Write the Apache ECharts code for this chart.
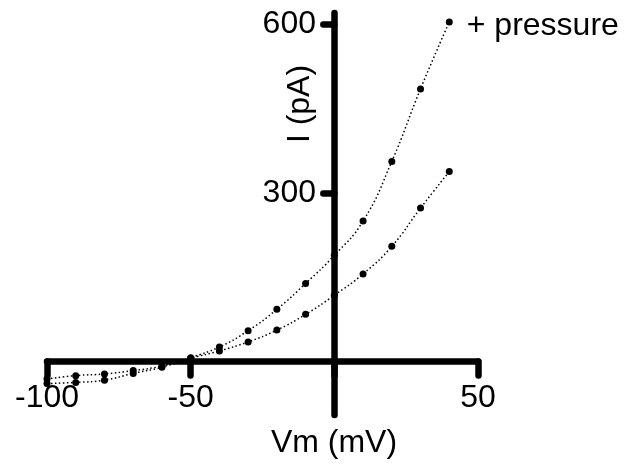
<!DOCTYPE html>
<html>
<head>
<meta charset="utf-8">
<script src="https://cdn.jsdelivr.net/npm/echarts@6/dist/echarts.min.js"></script>
<style>
  html, body { margin: 0; padding: 0; background: #fff; }
  #chart { width: 634px; height: 470px; }
</style>
</head>
<body>
<div id="chart"></div>
<script>
// membrane voltage steps (mV)
var voltages = [-100, -90, -80, -70, -60, -50, -40, -30, -20, -10, 0, 10, 20, 30, 40];
// current with pressure (pA)
var pressureCurrent = [-39, -37, -33, -21, -10, 7, 26, 55, 93, 139, 189, 250, 356, 485, 604];
// current without pressure (pA)
var controlCurrent = [-31, -25, -22, -16, -8, 6, 19, 35, 56, 84, 118, 156, 205, 273, 338];
var yTicks = [300, 600];
var pressureLabel = '+ pressure';

var font = 'Liberation Sans, Arial, Helvetica, sans-serif';
var fsize = 32;

function pairs(ys) {
    return voltages.map(function (v, i) { return [v, ys[i]]; });
}

var pressureData = pairs(pressureCurrent);
var last = pressureData.length - 1;
pressureData[last] = {
    value: pressureData[last],
    label: {
        show: true,
        position: 'right',
        distance: 14,
        offset: [0, 4],
        formatter: pressureLabel,
        color: '#000',
        fontSize: fsize,
        fontFamily: font
    }
};

var lineStyle = { color: '#000', width: 1.5, type: [1.5, 2.5] };
var axisStroke = { color: '#000', width: 6.5, cap: 'round' };

var chart = echarts.init(document.getElementById('chart'));
var option = {
    animation: false,
    grid: { left: 47, right: 156, top: 13, bottom: 55, outerBoundsMode: 'none', containLabel: false },
    xAxis: {
        type: 'value',
        min: -100,
        max: 50,
        interval: 50,
        axisLine: { onZero: true, lineStyle: axisStroke },
        axisTick: { show: true, length: 14, lineStyle: axisStroke },
        axisLabel: {
            // labels stay at the grid edge, so pull them up under the zero line
            margin: -33,
            color: '#000',
            fontSize: fsize,
            fontFamily: font,
            formatter: function (v) { return v === 0 ? '' : String(v); }
        },
        splitLine: { show: false }
    },
    yAxis: {
        type: 'value',
        min: -95,
        max: 620,
        axisLine: { onZero: true, lineStyle: axisStroke },
        axisTick: { show: true, length: 11, customValues: yTicks, lineStyle: axisStroke },
        axisLabel: {
            margin: -269,
            padding: [8, 0, 0, 0],
            color: '#000',
            fontSize: fsize,
            fontFamily: font,
            customValues: yTicks
        },
        splitLine: { show: false }
    },
    graphic: [
        {
            type: 'text',
            x: 300,
            y: 104,
            rotation: Math.PI / 2,
            style: { text: 'I (pA)', fill: '#000', fontSize: fsize, fontFamily: font, textAlign: 'center', textVerticalAlign: 'middle' }
        },
        {
            type: 'text',
            x: 334,
            y: 443,
            style: { text: 'Vm (mV)', fill: '#000', fontSize: fsize, fontFamily: font, textAlign: 'center', textVerticalAlign: 'middle' }
        }
    ],
    series: [
        {
            type: 'line',
            smooth: true,
            data: pressureData,
            symbol: 'circle',
            symbolSize: 7,
            itemStyle: { color: '#000' },
            lineStyle: lineStyle
        },
        {
            type: 'line',
            smooth: true,
            data: pairs(controlCurrent),
            symbol: 'circle',
            symbolSize: 7,
            itemStyle: { color: '#000' },
            lineStyle: lineStyle
        }
    ]
};
chart.setOption(option);
</script>
</body>
</html>
